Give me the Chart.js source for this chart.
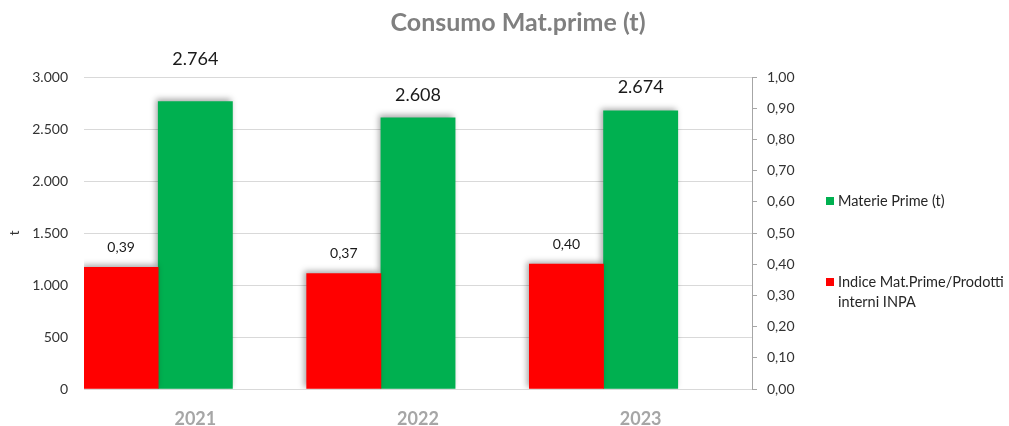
<!DOCTYPE html>
<html>
<head>
<meta charset="utf-8">
<script src="https://cdn.jsdelivr.net/npm/chart.js@4.4.1/dist/chart.umd.min.js"></script>
<style>
  body { margin: 0; background: #fff; overflow: hidden; }
  #wrap { position: relative; width: 1009px; height: 426px; font-family: Lato, "Open Sans", sans-serif; }
  .leg { position: absolute; left: 826px; font-size: 14.5px; color: #262626; line-height: 20px; white-space: nowrap; }
  .leg span.box { position: absolute; left: 0; width: 8px; height: 8px; }
  .leg span.txt { position: absolute; left: 12px; }
</style>
</head>
<body>
<div id="wrap">
  <canvas id="matChart" width="1009" height="426"></canvas>
  <div class="leg" style="top:191px">
    <span class="box" style="top:6px;background:#00b050"></span>
    <span class="txt" id="legGreen"></span>
  </div>
  <div class="leg" style="top:272px">
    <span class="box" style="top:6px;background:#ff0000"></span>
    <span class="txt" id="legRed"></span>
  </div>
</div>
<script>
const years = ["2021", "2022", "2023"];
const materiePrime = [2764, 2608, 2674];
const indiceINPA = [0.39, 0.37, 0.40];
const leftTicks = [0, 500, 1000, 1500, 2000, 2500, 3000];
const rightTicks = [0, 0.1, 0.2, 0.3, 0.4, 0.5, 0.6, 0.7, 0.8, 0.9, 1.0];
const chartTitle = "Consumo Mat.prime (t)";
const greenName = "Materie Prime (t)";
const redName = "Indice Mat.Prime/Prodotti interni INPA";

const ctx = document.getElementById("matChart");

document.getElementById("legGreen").textContent = greenName;
document.getElementById("legRed").innerHTML = "Indice Mat.Prime/Prodotti<br>interni INPA";

function fmtThousands(v) {
  return String(Math.round(v)).replace(/\B(?=(\d{3})+(?!\d))/g, ".");
}

function fmtDec(v) {
  return v.toFixed(2).replace(".", ",");
}

// title centred on the whole picture, shadow behind bars, value labels
const barExtras = {
  id: "barExtras",
  beforeDatasetsDraw(chart) {
    const c = chart.ctx;
    c.save();
    c.shadowColor = "rgba(0, 0, 0, 0.35)";
    c.shadowBlur = 6;
    c.shadowOffsetX = -2;
    c.shadowOffsetY = -2;
  },
  afterDatasetsDraw(chart) {
    const c = chart.ctx;
    c.restore();
    c.save();
    c.textAlign = "center";
    c.textBaseline = "middle";

    c.fillStyle = "#808080";
    c.font = "bold 25px Lato";
    c.fillText(chartTitle, 518, 23);

    c.fillStyle = "#1a1a1a";
    const redMeta = chart.getDatasetMeta(0);
    c.font = "14px Lato";
    redMeta.data.forEach((bar, i) => {
      c.fillText(fmtDec(indiceINPA[i]), bar.x, bar.y - 20);
    });

    const greenMeta = chart.getDatasetMeta(1);
    const greenOffsets = [42, 23, 24];
    c.font = "18px Lato";
    greenMeta.data.forEach((bar, i) => {
      c.fillText(fmtThousands(materiePrime[i]), bar.x, bar.y - greenOffsets[i]);
    });
    c.restore();
  },
};

new Chart(ctx, {
  type: "bar",
  data: {
    labels: years,
    datasets: [
      {
        label: redName,
        data: indiceINPA,
        yAxisID: "y1",
        backgroundColor: "#ff0000",
      },
      {
        label: greenName,
        data: materiePrime,
        yAxisID: "y",
        backgroundColor: "#00b050",
      },
      {
        label: "",
        data: [null, null, null],
        yAxisID: "y",
      },
    ],
  },
  plugins: [barExtras],
  options: {
    responsive: false,
    animation: false,
    categoryPercentage: 1,
    barPercentage: 1,
    layout: {
      padding: { left: 0, right: 209, top: 77, bottom: 0 },
    },
    plugins: {
      legend: { display: false },
      tooltip: { enabled: false },
      title: { display: false },
    },
    scales: {
      x: {
        grid: { display: false },
        border: { display: false },
        ticks: {
          color: "#a6a6a6",
          padding: 11,
          font: { family: "Lato", size: 18, weight: "bold" },
        },
        afterFit(scale) {
          scale.height = 37;
        },
      },
      y: {
        position: "left",
        min: 0,
        max: 3000,
        afterBuildTicks(scale) {
          scale.ticks = leftTicks.map((v) => ({ value: v }));
        },
        grid: { color: "#d9d9d9", drawTicks: false },
        border: { display: false },
        ticks: {
          color: "#333333",
          padding: 16,
          font: { family: "Lato", size: 14 },
          callback: (v) => fmtThousands(v),
        },
        title: {
          display: true,
          text: "t",
          color: "#333333",
          font: { family: "Lato", size: 14 },
          padding: { top: 6, bottom: 0 },
        },
        afterFit(scale) {
          scale.width = 84;
        },
      },
      y1: {
        position: "right",
        min: 0,
        max: 1,
        afterBuildTicks(scale) {
          scale.ticks = rightTicks.map((v) => ({ value: v }));
        },
        grid: {
          drawOnChartArea: false,
          drawTicks: true,
          tickLength: 5,
          color: "#a6a6a6",
        },
        border: { display: true, color: "#a6a6a6" },
        ticks: {
          color: "#333333",
          padding: 10,
          font: { family: "Lato", size: 14 },
          callback: (v) => fmtDec(v),
        },
        afterFit(scale) {
          scale.width = 48;
        },
      },
    },
  },
});
</script>
</body>
</html>
